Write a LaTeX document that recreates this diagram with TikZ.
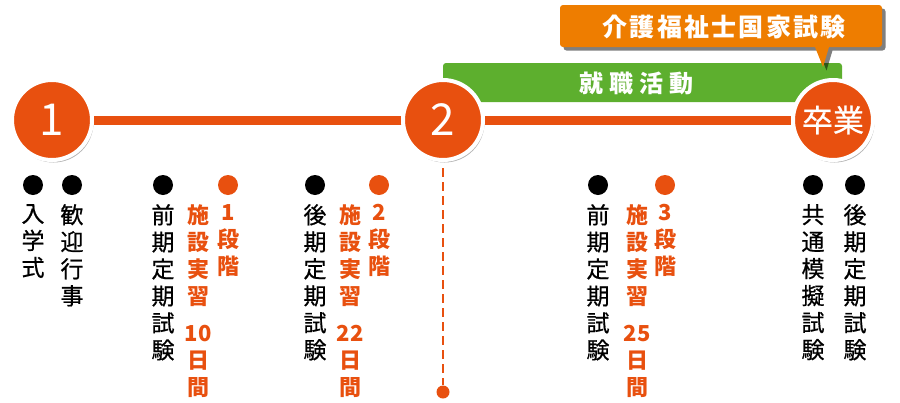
\documentclass[tikz,border=0pt]{standalone}
\usepackage{fontspec}
\newfontfamily\jp{Noto Sans CJK JP}
\newfontfamily\jpm{Noto Sans CJK JP}[FakeBold=0.6]
\usetikzlibrary{shadows}
\definecolor{lineor}{HTML}{E8500F}
\definecolor{calor}{HTML}{EE7D00}
\definecolor{grn}{HTML}{5DAF2E}
\pgfdeclarelayer{bg}
\pgfsetlayers{bg,main}
\tikzset{
  milestone/.style={circle, fill=lineor, draw=white, line width=4pt, minimum size=80pt, inner sep=0pt, text=white,
    drop shadow={shadow xshift=1.5pt, shadow yshift=-2.5pt, opacity=0.3, fill=black}},
  blk/.style={font=\jpm\fontsize{23}{27}\selectfont, align=center, anchor=north, inner sep=0pt, text=black},
  org/.style={font=\jp\bfseries\fontsize{22}{27}\selectfont, align=center, anchor=north, inner sep=0pt, text=lineor},
  bdot/.style={circle, fill=black, minimum size=20pt, inner sep=0pt},
  odot/.style={circle, fill=lineor, minimum size=20pt, inner sep=0pt},
  whitelabel/.style={text=white, inner sep=0pt},
}
\begin{document}
\begin{tikzpicture}[x=1pt,y=-1pt]
\useasboundingbox (0,0) rectangle (900,402);
% milestones
\node[milestone, font=\jp\fontsize{44}{44}\selectfont] (c1) at (52,120) {1};
\node[milestone, font=\jp\fontsize{44}{44}\selectfont] (c2) at (443,120) {2};
\node[milestone, font=\jpm\fontsize{31}{31}\selectfont] (c3) at (833,120) {卒業};
\begin{pgfonlayer}{bg}
  \node[fill=grn, rounded corners=3pt, minimum width=399pt, minimum height=39pt, inner sep=0pt] (job) at (642.5,82.5) {};
  \draw[lineor, line width=9pt] (c1) -- (c3);
\end{pgfonlayer}
\node[whitelabel, font=\jp\bfseries\fontsize{24}{24}\selectfont\addfontfeature{LetterSpace=25}] (jobtxt) at (636,83) {就職活動};
% callout
\path[fill=calor, rounded corners=3pt, drop shadow={shadow xshift=3.5pt, shadow yshift=-3.5pt, opacity=0.5, fill=black}]
  (560,5) -- (882,5) -- (882,47) [sharp corners] -- (829,47) -- (823,67) -- (815,47) [rounded corners=3pt] -- (560,47) -- cycle;
\node[whitelabel, font=\jp\bfseries\fontsize{25}{25}\selectfont\addfontfeature{LetterSpace=9}] (kokka) at (724,27) {介護福祉士国家試験};
% dashed connector
\node[odot, minimum size=13pt] (end) at (443,392) {};
\draw[lineor, line width=2pt, dash pattern=on 9pt off 5pt] ([yshift=-6pt]c2.south) -- (end);
% bullets
\foreach \n/\x in {b1/33,b2/72,b3/163,b4/315,b5/598,b6/813,b7/855}
  \node[bdot] (\n) at (\x,185) {};
\foreach \n/\x in {o1/228,o2/379,o3/665}
  \node[odot] (\n) at (\x,185) {};
% black columns
\node[blk] (t1) at (33,204) {入\\学\\式};
\node[blk] (t2) at (72,204) {歓\\迎\\行\\事};
\node[blk] (t3) at (163,204) {前\\期\\定\\期\\試\\験};
\node[blk] (t4) at (315,204) {後\\期\\定\\期\\試\\験};
\node[blk] (t5) at (598,204) {前\\期\\定\\期\\試\\験};
\node[blk] (t6) at (813,204) {共\\通\\模\\擬\\試\\験};
\node[blk] (t7) at (855,204) {後\\期\\定\\期\\試\\験};
% orange columns
\node[org] (s1) at (198,204) {施\\設\\実\\習\\[10pt]10\\日\\間};
\node[org] (d1) at (228,204) {1\\段\\階};
\node[org] (s2) at (350,204) {施\\設\\実\\習\\[10pt]22\\日\\間};
\node[org] (d2) at (379,204) {2\\段\\階};
\node[org] (s3) at (637,204) {施\\設\\実\\習\\[10pt]25\\日\\間};
\node[org] (d3) at (665,204) {3\\段\\階};
\end{tikzpicture}
\end{document}
